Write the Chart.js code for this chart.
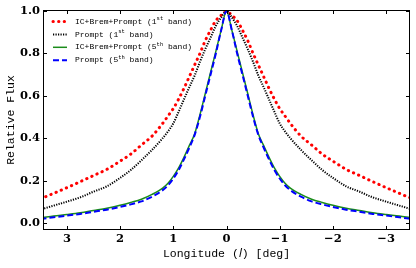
<!DOCTYPE html>
<html><head><meta charset="utf-8">
<script src="https://cdn.jsdelivr.net/npm/chart.js@4.4.0/dist/chart.umd.min.js"></script>
<style>html,body{margin:0;padding:0;background:#fff;overflow:hidden}canvas{display:block}</style>
</head><body>
<canvas id="c" width="416" height="268"></canvas>
<script>
// Longitude samples (deg)
const longitudes = [-3.45, -3.25, -3.0, -2.75, -2.5, -2.25, -2.0, -1.8, -1.6, -1.4, -1.2, -1.1, -1.0, -0.9, -0.8, -0.7, -0.6, -0.5, -0.4, -0.3, -0.2, -0.1, 0,
  0.1, 0.2, 0.3, 0.4, 0.5, 0.6, 0.7, 0.8, 0.9, 1.0, 1.1, 1.2, 1.4, 1.6, 1.8, 2.0, 2.25, 2.5, 2.75, 3.0, 3.25, 3.45];
// IC+Brem+Prompt (1st band)
const icBremPrompt1 = [0.119, 0.14, 0.167, 0.195, 0.224, 0.253, 0.292, 0.325, 0.368, 0.41, 0.47, 0.505, 0.54, 0.585, 0.635, 0.69, 0.745, 0.80, 0.86, 0.91, 0.955, 0.98, 1.0,
  0.98, 0.955, 0.91, 0.86, 0.80, 0.745, 0.69, 0.635, 0.585, 0.54, 0.505, 0.47, 0.41, 0.368, 0.325, 0.292, 0.253, 0.224, 0.195, 0.167, 0.14, 0.119];
// Prompt (1st band)
const prompt1 = [0.067, 0.082, 0.101, 0.121, 0.148, 0.173, 0.213, 0.25, 0.296, 0.345, 0.40, 0.432, 0.47, 0.525, 0.583, 0.64, 0.695, 0.76, 0.82, 0.875, 0.93, 0.97, 1.0,
  0.97, 0.93, 0.875, 0.82, 0.76, 0.695, 0.64, 0.583, 0.525, 0.47, 0.432, 0.40, 0.345, 0.296, 0.25, 0.213, 0.173, 0.148, 0.121, 0.101, 0.082, 0.067];
// IC+Brem+Prompt (5th band)
const icBremPrompt5 = [0.026, 0.033, 0.04, 0.048, 0.059, 0.07, 0.084, 0.097, 0.112, 0.135, 0.165, 0.188, 0.22, 0.26, 0.31, 0.365, 0.42, 0.51, 0.61, 0.71, 0.81, 0.91, 1.0,
  0.91, 0.81, 0.71, 0.61, 0.51, 0.42, 0.365, 0.31, 0.26, 0.22, 0.188, 0.165, 0.135, 0.112, 0.097, 0.084, 0.07, 0.059, 0.048, 0.04, 0.033, 0.026];
// Prompt (5th band)
const prompt5 = [0.020, 0.027, 0.035, 0.043, 0.053, 0.063, 0.076, 0.088, 0.102, 0.124, 0.155, 0.178, 0.21, 0.25, 0.30, 0.355, 0.415, 0.50, 0.60, 0.70, 0.80, 0.91, 1.0,
  0.91, 0.80, 0.70, 0.60, 0.50, 0.415, 0.355, 0.30, 0.25, 0.21, 0.178, 0.155, 0.124, 0.102, 0.088, 0.076, 0.063, 0.053, 0.043, 0.035, 0.027, 0.020];

const xTicks = [3, 2, 1, 0, -1, -2, -3];
const yTicks = [0.0, 0.2, 0.4, 0.6, 0.8, 1.0];
const seriesLabels = ['IC+Brem+Prompt (1st band)', 'Prompt (1st band)', 'IC+Brem+Prompt (5th band)', 'Prompt (5th band)'];
const legendParts = [
  ['IC+Brem+Prompt (1', 'st', ' band)'],
  ['Prompt (1', 'st', ' band)'],
  ['IC+Brem+Prompt (5', 'th', ' band)'],
  ['Prompt (5', 'th', ' band)']
];
const xTitle = 'Longitude (\u{1D459}) [deg]';
const yTitle = 'Relative Flux';

const pts = arr => longitudes.map((x, i) => ({x, y: arr[i]}));
const MONO = '"Liberation Mono", "DejaVu Sans Mono", monospace';
const SERIF = '"DejaVu Serif", serif';

const datasets = [
  {label: seriesLabels[0], data: pts(icBremPrompt1), borderColor: '#ff0000', borderWidth: 3, borderDash: [0.3, 5.3], borderCapStyle: 'round', order: 4},
  {label: seriesLabels[1], data: pts(prompt1), borderColor: '#000000', borderWidth: 2, borderDash: [1.2, 1.3], borderCapStyle: 'butt', order: 3},
  {label: seriesLabels[2], data: pts(icBremPrompt5), borderColor: '#1a8c1a', borderWidth: 1.5, borderDash: [], borderCapStyle: 'butt', order: 2},
  {label: seriesLabels[3], data: pts(prompt5), borderColor: '#0000ff', borderWidth: 2, borderDash: [6, 3], borderCapStyle: 'butt', order: 1}
].map(d => Object.assign(d, {pointRadius: 0, fill: false, cubicInterpolationMode: 'monotone'}));

const framePlugin = {
  id: 'frameLegend',
  afterDraw(chart) {
    const {ctx, chartArea: a, scales: {x, y}} = chart;
    ctx.save();
    ctx.strokeStyle = '#000';
    ctx.lineWidth = 1;
    ctx.setLineDash([]);
    ctx.strokeRect(a.left + 0.5, a.top + 0.5, a.right - a.left - 1, a.bottom - a.top - 1);
    ctx.beginPath();
    xTicks.forEach(v => {
      const px = Math.round(x.getPixelForValue(v)) + 0.5;
      ctx.moveTo(px, a.bottom); ctx.lineTo(px, a.bottom - 4);
      ctx.moveTo(px, a.top); ctx.lineTo(px, a.top + 4);
    });
    yTicks.forEach(v => {
      const py = Math.round(y.getPixelForValue(v)) + 0.5;
      ctx.moveTo(a.left, py); ctx.lineTo(a.left + 4, py);
      ctx.moveTo(a.right, py); ctx.lineTo(a.right - 4, py);
    });
    ctx.stroke();
    // legend
    legendParts.forEach((parts, i) => {
      const ds = chart.data.datasets[i];
      const yy = 21.5 + i * 12.9;
      ctx.save();
      ctx.strokeStyle = ds.borderColor;
      ctx.lineWidth = ds.borderWidth;
      ctx.lineCap = ds.borderCapStyle || 'butt';
      ctx.setLineDash(ds.borderDash || []);
      ctx.beginPath();
      ctx.moveTo(53, yy); ctx.lineTo(67, yy);
      ctx.stroke();
      ctx.restore();
      ctx.fillStyle = '#000';
      ctx.textBaseline = 'middle';
      ctx.textAlign = 'left';
      let tx = 75;
      ctx.font = '8px ' + MONO;
      ctx.fillText(parts[0], tx, yy);
      tx += ctx.measureText(parts[0]).width;
      ctx.font = '5.5px ' + MONO;
      ctx.fillText(parts[1], tx, yy - 3);
      tx += ctx.measureText(parts[1]).width;
      ctx.font = '8px ' + MONO;
      ctx.fillText(parts[2], tx, yy);
    });
    ctx.restore();
  }
};

new Chart(document.getElementById('c'), {
  type: 'line',
  data: {datasets},
  options: {
    responsive: false,
    animation: false,
    devicePixelRatio: 1,
    layout: {padding: {top: 10, right: 6, left: 0, bottom: 0}},
    plugins: {legend: {display: false}, tooltip: {enabled: false}},
    scales: {
      x: {
        type: 'linear', reverse: true, min: -3.45, max: 3.45,
        afterBuildTicks: s => { s.ticks = xTicks.map(v => ({value: v})); },
        afterFit: s => { s.height = 38; },
        grid: {display: false, drawTicks: false},
        border: {display: false},
        ticks: {
          padding: 2, color: '#000', maxRotation: 0,
          font: {family: SERIF, size: 11.5, weight: 'bold'},
          callback: v => (v < 0 ? '\u2212' + Math.abs(v) : String(v))
        },
        title: {display: true, text: xTitle, color: '#000', font: {family: MONO, size: 11.5}, padding: {top: 0, bottom: 7}}
      },
      y: {
        type: 'linear', min: -0.033, max: 1.005,
        afterBuildTicks: s => { s.ticks = yTicks.map(v => ({value: v})); },
        afterFit: s => { s.width = 43; },
        grid: {display: false, drawTicks: false},
        border: {display: false},
        ticks: {
          padding: 3, color: '#000',
          font: {family: SERIF, size: 11.5, weight: 'bold'},
          callback: v => v.toFixed(1)
        },
        title: {display: true, text: yTitle, color: '#000', font: {family: MONO, size: 11.5}, padding: {top: 4, bottom: 0}}
      }
    }
  },
  plugins: [framePlugin]
});
</script>
</body></html>
